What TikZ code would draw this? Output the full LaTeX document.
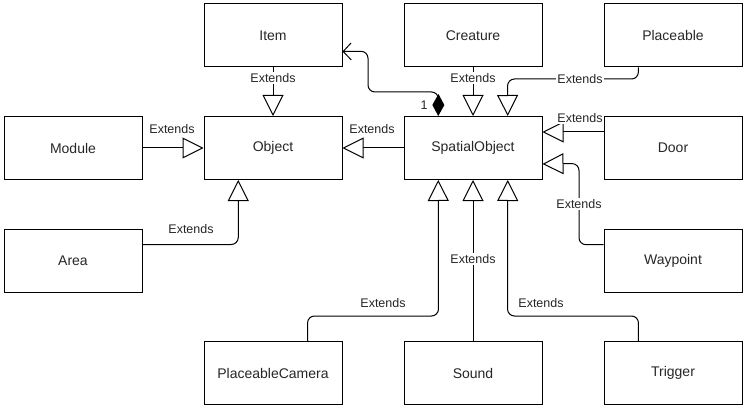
\documentclass[tikz,border=0pt]{standalone}
\usepackage{fontspec}
\setmainfont{Liberation Sans}
\usetikzlibrary{arrows.meta,calc}
\begin{document}
\begin{tikzpicture}[x=1pt,y=-1pt,
  box/.style={draw, line width=1pt, minimum width=138pt, minimum height=63pt, inner sep=0pt, font=\fontsize{14}{16}\selectfont, text=black!85},
  ext/.style={line width=1pt, rounded corners=7pt, -{Triangle[open, length=21pt, width=21pt, fill=white]}},
  lbl/.style={fill=white, inner sep=1pt, font=\fontsize{12.5}{14}\selectfont, text=black!85},
  comp/.style={line width=1pt, rounded corners=7pt, {Diamond[length=22pt, width=12pt]}-{Straight Barb[length=8pt, width=17pt]}}
]
\useasboundingbox (0,0) rectangle (747,409);
% boxes
\node[box] (item) at (273,35.5) {Item};
\node[box] (creature) at (473,35.5) {Creature};
\node[box] (placeable) at (673,35.5) {Placeable};
\node[box] (module) at (73,148) {Module};
\node[box] (object) at (273,148) {Object};
\node[box] (spatial) at (473,148) {SpatialObject};
\node[box] (door) at (673,148) {Door};
\node[box] (area) at (73,260.5) {Area};
\node[box] (waypoint) at (673,260.5) {Waypoint};
\node[box] (pcam) at (273,373) {PlaceableCamera};
\node[box] (sound) at (473,373) {Sound};
\node[box] (trigger) at (673,373) {Trigger};
% helper coordinates
\coordinate (objBL) at ($(object.south west)!0.25!(object.south east)$);
\coordinate (spTL) at ($(spatial.north west)!0.25!(spatial.north east)$);
\coordinate (spTR) at ($(spatial.north west)!0.75!(spatial.north east)$);
\coordinate (spBL) at ($(spatial.south west)!0.25!(spatial.south east)$);
\coordinate (spBR) at ($(spatial.south west)!0.75!(spatial.south east)$);
\coordinate (spRU) at ($(spatial.north east)!0.25!(spatial.south east)$);
\coordinate (spRD) at ($(spatial.north east)!0.75!(spatial.south east)$);
\coordinate (itemR) at ($(item.north east)!0.75!(item.south east)$);
\coordinate (areaR) at ($(area.north east)!0.25!(area.south east)$);
\coordinate (plB) at ($(placeable.south west)!0.25!(placeable.south east)$);
\coordinate (doorL) at ($(door.north west)!0.25!(door.south west)$);
\coordinate (wpL) at ($(waypoint.north west)!0.25!(waypoint.south west)$);
\coordinate (pcT) at ($(pcam.north west)!0.75!(pcam.north east)$);
\coordinate (trT) at ($(trigger.north west)!0.25!(trigger.north east)$);
% connectors
\draw[ext] (item.south) -- (object.north);
\node[lbl] (l1) at (273,78) {Extends};
\draw[ext] (module.east) -- (object.west);
\node[lbl] (l2) at (172,129) {Extends};
\draw[ext] (spatial.west) -- (object.east);
\node[lbl] (l3) at (372,129) {Extends};
\draw[ext] (areaR) -- (areaR -| objBL) -- (objBL);
\node[lbl] (l4) at (191,229) {Extends};
\draw[ext] (creature.south) -- (spatial.north);
\node[lbl] (l5) at (473,78) {Extends};
\draw[ext] (plB) -- (638.5,79) -- (507.5,79) -- (spTR);
\node[lbl] (l6) at (580,79) {Extends};
\draw[ext] (doorL) -- (spRU);
\node[lbl] (l7) at (580,118) {Extends};
\draw[ext] (wpL) -- (579,244.75) -- (579,163.5) -- (spRD);
\node[lbl] (l8) at (579,204) {Extends};
\draw[ext] (pcT) -- (307.5,316) -- (438.5,316) -- (spBL);
\node[lbl] (l9) at (383,303) {Extends};
\draw[ext] (sound.north) -- (spatial.south);
\node[lbl] (l10) at (473,259) {Extends};
\draw[ext] (trT) -- (638.5,316) -- (507.5,316) -- (spBR);
\node[lbl] (l11) at (541,303) {Extends};
\draw[comp] (spTL) -- (438.5,92) -- (368,92) -- (368,51.25) -- (itemR);
\node[font=\fontsize{12.5}{14}\selectfont, text=black!85] (one) at (424,105) {1};
\end{tikzpicture}
\end{document}
